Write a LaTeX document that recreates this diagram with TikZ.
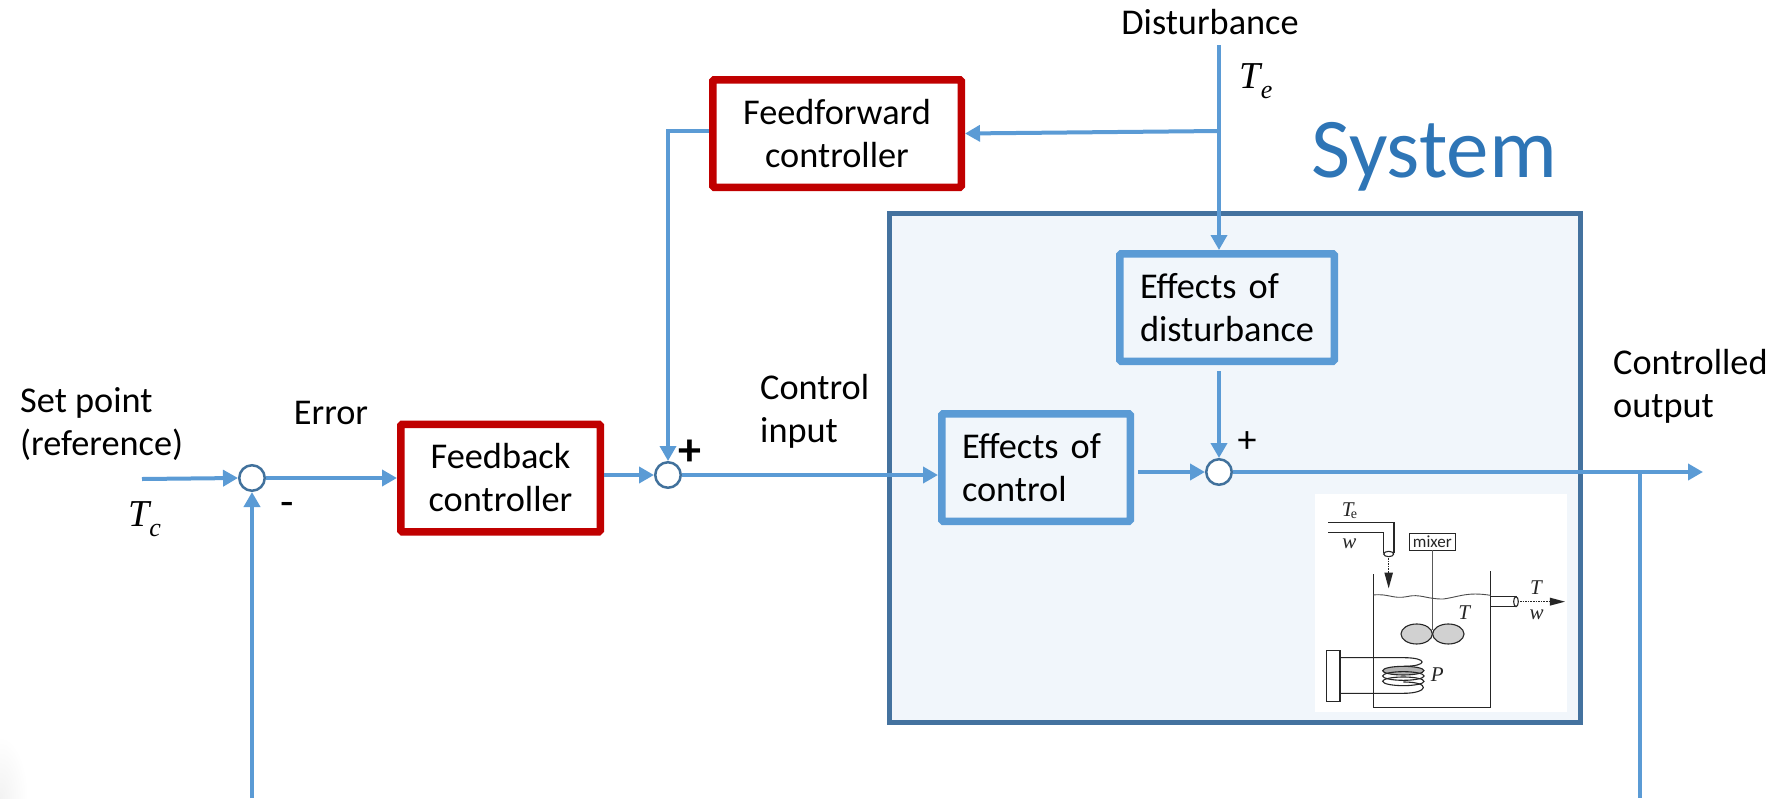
\documentclass[tikz,border=0pt]{standalone}
\usepackage{fontspec}
\setmainfont{Carlito}
\newfontfamily\mathlike{Liberation Serif}
\usetikzlibrary{arrows.meta,shapes.geometric}
\definecolor{lineblue}{HTML}{5B9BD5}
\definecolor{ringblue}{HTML}{41719C}
\definecolor{sysedge}{HTML}{44729F}
\definecolor{sysfill}{HTML}{F1F6FB}
\definecolor{sysword}{HTML}{2E75B6}
\definecolor{ctrlred}{HTML}{C00000}
\newcommand{\symT}[1]{{\fontsize{38}{38}\selectfont\mathlike\itshape T\raisebox{-.26em}{\fontsize{26}{26}\selectfont #1}}}
\tikzset{
  x=1pt,y=-1pt,
  base/.style={font=\fontsize{36.3}{43}\selectfont,inner sep=0pt,text=black},
  label/.style={base,align=center},
  leftlabel/.style={base,align=left,anchor=west},
  redbox/.style={base,align=center,draw=ctrlred,line width=7.5pt,rounded corners=1.5pt,fill=white},
  bluebox/.style={base,align=left,draw=lineblue,line width=7.5pt,rounded corners=1.5pt},
  sumring/.style={circle,draw=ringblue,line width=2.5pt,minimum size=25.5pt,inner sep=0pt,fill=white},
  flow/.style={draw=lineblue,line width=4pt,-{Triangle[length=15pt,width=16pt]}},
  thinflow/.style={draw=lineblue,line width=3.5pt,-{Triangle[length=15pt,width=16pt]}},
  plainflow/.style={draw=lineblue,line width=4pt},
  ink/.style={draw=black!85,line width=1.1pt},
  inktext/.style={inner sep=0pt,font=\fontsize{21}{21}\selectfont\mathlike\itshape,text=black!85},
}
\begin{document}
\begin{tikzpicture}
\useasboundingbox (0,0) rectangle (1779,798);
% faint corner shadow of the reference
\begin{scope}
  \clip (0,730) rectangle (30,798);
  \shade[inner color=black!5,outer color=white] (0,798) ellipse [x radius=28,y radius=62];
\end{scope}
% system
\node[draw=sysedge,fill=sysfill,line width=5pt,minimum width=691pt,minimum height=509pt,inner sep=0pt] (sys) at (1235,468) {};
\node[base,text=sysword,font=\fontsize{85}{90}\selectfont] (systitle) at (1434,157) {System};
% blocks
\node[redbox,minimum width=199.5pt,minimum height=107.5pt] (fb) at (500.5,478) {Feedback\\controller};
\node[redbox,minimum width=248.5pt,minimum height=107.5pt] (ff) at (837,133.5) {Feedforward\\controller};
\node[bluebox,minimum width=214.5pt,minimum height=107.5pt,text width=174pt] (ed) at (1227,307.5) {Effects of\\disturbance};
\node[bluebox,minimum width=188.5pt,minimum height=107.5pt,text width=148pt] (ec) at (1036,467.5) {Effects of\\control};
% summing junctions
\node[sumring] (s1) at (252,478) {};
\node[sumring] (s2) at (668,475) {};
\node[sumring] (s3) at (1219,472) {};
% free ends
\coordinate (in) at (142,479);
\coordinate (dtop) at (1219,45);
\coordinate (dbr) at (1219,131);
\coordinate (ffout) at (668,131);
\coordinate (out) at (1703,472);
\coordinate (tap) at (1640,472);
\coordinate (tapend) at (1640,798);
\coordinate (fbend) at (252,798);
% connectors
\draw[flow] (in) -- (s1.west);
\draw[flow] (s1.east) -- (fb.west |- s1);
\draw[flow] (fb.east |- s2) -- (s2.west);
\draw[flow] (s2.east) -- (ec.west |- s2);
\draw[flow] ([xshift=4pt]ec.east |- s3) -- (s3.west);
\draw[flow] (s3.east) -- (out);
\draw[plainflow] (tap) -- (tapend);
\draw[flow] (fbend) -- (s1.south);
\draw[thinflow] (dtop) -- (ed.north -| dtop);
\draw[flow] (dbr) -- (ff.east);
\draw[thinflow] (ff.west |- ffout) -- (ffout) -- (s2.north);
\draw[flow] ([yshift=-6pt]ed.south -| s3) -- (s3.north);
% labels
\node[leftlabel] (lset) at (20,424) {Set point\\(reference)};
\node[label] (lerr) at (331,413) {Error};
\node[base] (ltc) at (144.5,519) {\symT{c}};
\node[base,font=\fontsize{44}{44}\selectfont] (lminus) at (287,509) {-};
\node[base,font=\fontsize{46}{46}\selectfont\bfseries] (lplus) at (690,453) {+};
\node[leftlabel] (lctl) at (760,411) {Control\\input};
\node[leftlabel] (lout) at (1613,386) {Controlled\\output};
\node[base,font=\fontsize{38}{38}\selectfont] (lplusb) at (1247,442) {+};
\node[label] (ldist) at (1210,22) {Disturbance};
\node[base] (lte) at (1256,81) {\symT{e}};
% inset
\node[fill=white,minimum width=252pt,minimum height=218pt,inner sep=0pt] (inset) at (1441,603) {};
\begin{scope}[shift={(1300,480)},x=.3333pt,y=-.3333pt]
  \draw[ink] (85,128) -- (282,128) -- (282,218);
  \draw[ink] (85,158) -- (250,158) -- (250,218);
  \draw[ink] (266,222) ellipse [x radius=15,y radius=8];
  \draw[ink,line width=1.6pt,densely dotted] (266,234) -- (266,278);
  \fill[black!85] (253,278) -- (279,278) -- (266,325) -- cycle;
  \draw[ink,fill=white] (328,160) rectangle (467,211);
  \node[inner sep=0pt,font=\fontsize{17}{17}\selectfont,text=black!85] (mix) at (397,186) {mixer};
  \draw[draw=black!65,line width=1pt] (397,211) -- (397,450);
  \draw[ink] (220,283) -- (220,683) -- (572,683) -- (572,272);
  \draw[draw=black!70,line width=.9pt] (220,345) .. controls (265,340) and (280,358) .. (320,350) .. controls (360,340) and (380,358) .. (430,357) .. controls (480,350) and (500,335) .. (572,346);
  \draw[ink] (572,350) -- (650,350);
  \draw[ink] (572,380) -- (650,380);
  \draw[ink,fill=white] (648,365) ellipse [x radius=7,y radius=15];
  \draw[ink,line width=1.6pt,densely dotted] (660,365) -- (750,365);
  \fill[black!85] (750,353) -- (750,377) -- (795,365) -- cycle;
  \draw[ink,fill=black!18] (350,462) ellipse [x radius=47,y radius=30];
  \draw[ink,fill=black!18] (445,462) ellipse [x radius=47,y radius=30];
  \draw[ink] (310,606) .. controls (395,606) and (385,640) .. (310,640) -- (120,640);
  \draw[ink,fill=black!30] (310,572) ellipse [x radius=62,y radius=13];
  \draw[ink] (310,588) ellipse [x radius=62,y radius=13];
  \draw[ink] (310,604) ellipse [x radius=62,y radius=13];
  \draw[ink] (120,533) -- (310,533) .. controls (385,533) and (385,559) .. (310,559);
  \draw[ink,fill=white] (80,512) rectangle (120,665);
  \node[inktext] (t1) at (143,88) {T};
  \node[inner sep=0pt,font=\fontsize{14}{14}\selectfont\mathlike,text=black!85] (t1s) at (162,105) {e};
  \node[inktext] (w1) at (148,190) {w};
  \node[inktext] (t2) at (708,322) {T};
  \node[inktext] (w2) at (710,403) {w};
  \node[inktext] (t3) at (493,397) {T};
  \node[inktext] (pp) at (412,585) {P};
\end{scope}
\end{tikzpicture}
\end{document}
